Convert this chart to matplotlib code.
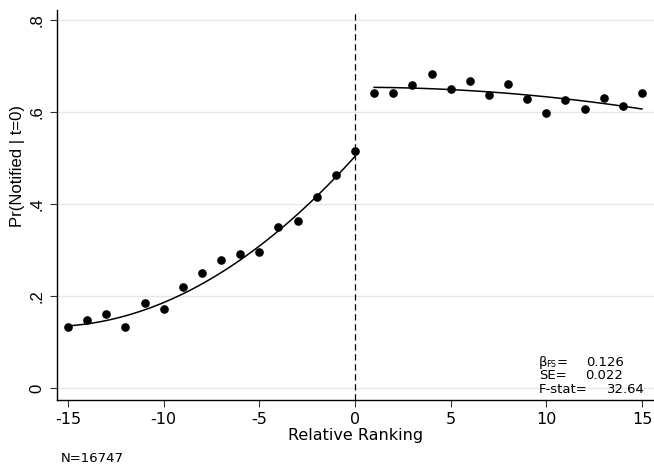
import matplotlib
matplotlib.use("Agg")
import matplotlib.pyplot as plt
import numpy as np

# binned means
rank_left = np.arange(-15, 1)
prob_left = [0.134, 0.149, 0.162, 0.134, 0.186, 0.173, 0.220, 0.251,
             0.278, 0.293, 0.296, 0.350, 0.363, 0.415, 0.464, 0.516]
rank_right = np.arange(1, 16)
prob_right = [0.641, 0.641, 0.659, 0.683, 0.650, 0.667, 0.638, 0.662,
              0.629, 0.599, 0.626, 0.608, 0.630, 0.614, 0.642]

# values of the quadratic fit lines read at start / middle / end
fit_x_left = [-15, -7.5, 0]
fit_y_left = [0.136, 0.239, 0.504]
fit_x_right = [1, 8, 15]
fit_y_right = [0.654, 0.641, 0.607]

xticks = [-15, -10, -5, 0, 5, 10, 15]
yticks = [0, 0.2, 0.4, 0.6, 0.8]
ytick_labels = ["0", ".2", ".4", ".6", ".8"]

stat_labels = ["β", "SE=", "F-stat="]
stat_values = ["0.126", "0.022", "32.64"]
n_obs = 16747

plt.rcParams["font.family"] = "DejaVu Sans"

fig = plt.figure(figsize=(6.54, 4.68), dpi=100)
ax = fig.add_axes([57 / 654, 68 / 468, 597 / 654, 390 / 468])

for y in yticks:
    ax.axhline(y, color="#e6e6e6", linewidth=1.0, zorder=0)

ax.axvline(0, color="black", linestyle=(0, (5, 3)), linewidth=0.9, zorder=1)

ax.scatter(rank_left, prob_left, s=27, color="black", zorder=3)
ax.scatter(rank_right, prob_right, s=27, color="black", zorder=3)

# quadratic fit on each side of the cutoff
for fx, fy in [(fit_x_left, fit_y_left), (fit_x_right, fit_y_right)]:
    coef = np.polyfit(fx, fy, 2)
    xx = np.linspace(fx[0], fx[-1], 100)
    ax.plot(xx, np.polyval(coef, xx), color="black", linewidth=1.1, zorder=2)

ax.set_xlim(-15.575, 15.63)
ax.set_ylim(-0.025, 0.822)
ax.spines["top"].set_visible(False)
ax.spines["right"].set_visible(False)
ax.spines["left"].set_linewidth(1.0)
ax.spines["bottom"].set_linewidth(1.0)

ax.set_xticks(xticks)
ax.set_xticklabels([str(t) for t in xticks], fontsize=11.5)
ax.set_yticks(yticks)
ax.set_yticklabels(ytick_labels, rotation=90, va="center",
                   fontsize=12, family="Liberation Sans")
ax.tick_params(axis="both", length=5, width=0.8, color="#333333")
ax.tick_params(axis="y", pad=4)

ax.set_xlabel("Relative Ranking", fontsize=11.5, labelpad=1)
ax.set_ylabel("Pr(Notified | t=0)", fontsize=12, family="Liberation Sans")
ax.yaxis.set_label_coords(-0.054, 0.60)

# first stage stats in the lower right corner
line_y = [366, 379, 393]
value_x = [586, 585, 607]
for lab, val, yp, xp in zip(stat_labels, stat_values, line_y, value_x):
    fig.text(539 / 654, 1 - yp / 468, lab, fontsize=9.5, va="baseline")
    fig.text(xp / 654, 1 - yp / 468, val, fontsize=9.5, va="baseline")
# subscript of beta drawn as its own small text
fig.text(546 / 654, 1 - 367 / 468, "FS", fontsize=6, va="baseline")
fig.text(557 / 654, 1 - 366 / 468, "=", fontsize=9.5, va="baseline")

fig.text(61 / 654, 1 - 462 / 468, f"N={n_obs}", fontsize=9.5, va="baseline")

fig.savefig("out.png", dpi=100)
